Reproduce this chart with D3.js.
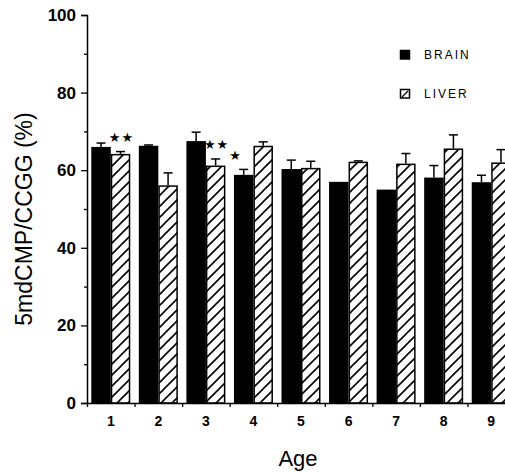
<!DOCTYPE html>
<meta charset="utf-8">
<script src="https://cdn.jsdelivr.net/npm/d3@7"></script>
<style>
  body { margin: 0; background: #fff; }
  text { font-family: "Liberation Sans", Arial, sans-serif; }
</style>
<body>
<div id="my_dataviz"></div>
<script>
// data
var ages = ["1", "2", "3", "4", "5", "6", "7", "8", "9"];
var brain = [66.0, 66.3, 67.5, 58.8, 60.3, 57.0, 55.0, 58.1, 56.9];
var brainErr = [1.0, 0.2, 2.3, 1.4, 2.3, 0, 0, 3.1, 1.8];
var liver = [64.2, 56.1, 61.2, 66.3, 60.6, 62.2, 61.7, 65.6, 62.0];
var liverErr = [0.6, 3.2, 1.7, 1.0, 1.7, 0.2, 2.6, 3.5, 3.3];
var brainSig = ["", "", "", "*", "", "", "", "", ""];
var liverSig = ["**", "", "**", "", "", "", "", "", ""];
var series = ["BRAIN", "LIVER"];
var yTicks = [0, 20, 40, 60, 80, 100];
var yMinor = [10, 30, 50, 70, 90];

var margin = { top: 15, left: 87 },
  width = 428,
  height = 388;

var svg = d3.select("#my_dataviz")
  .append("svg")
  .attr("width", 505)
  .attr("height", 472);

// hatch for liver bars
var defs = svg.append("defs");
defs.append("pattern")
  .attr("id", "hatch")
  .attr("patternUnits", "userSpaceOnUse")
  .attr("width", 11)
  .attr("height", 11)
  .append("path")
  .attr("d", "M0,11 L11,0 M-2,2 L2,-2 M9,13 L13,9")
  .attr("stroke", "#000")
  .attr("stroke-width", 1.6);

var g = svg.append("g")
  .attr("transform", "translate(" + margin.left + "," + margin.top + ")");

var y = d3.scaleLinear().domain([0, 100]).range([height, 0]);

var x0 = d3.scaleBand()
  .domain(ages)
  .range([0, width])
  .paddingInner(0.18)
  .paddingOuter(0.09);

var x1 = d3.scaleBand()
  .domain(series)
  .range([0, x0.bandwidth()]);

// boundaries between age groups
var xb = d3.scaleLinear().domain([0, ages.length]).range([0, width]);

var rows = ages.map(function (a, i) {
  return [
    { age: a, key: "BRAIN", v: brain[i], e: brainErr[i], sig: brainSig[i] },
    { age: a, key: "LIVER", v: liver[i], e: liverErr[i], sig: liverSig[i] }
  ];
});
var flat = [].concat.apply([], rows);

function cx(d) { return x0(d.age) + x1(d.key) + x1.bandwidth() / 2; }

// error bars (behind the bars)
var eb = g.append("g").selectAll("g")
  .data(flat.filter(function (d) { return d.e > 0; }))
  .enter().append("g")
  .attr("stroke", "#000")
  .attr("stroke-width", 1.5);
eb.append("line")
  .attr("x1", cx)
  .attr("x2", cx)
  .attr("y1", function (d) { return y(d.v); })
  .attr("y2", function (d) { return y(d.v + d.e); });
eb.append("line")
  .attr("x1", function (d) { return cx(d) - 4.5; })
  .attr("x2", function (d) { return cx(d) + 4.5; })
  .attr("y1", function (d) { return y(d.v + d.e); })
  .attr("y2", function (d) { return y(d.v + d.e); });

// bars
g.append("g").selectAll("rect")
  .data(flat)
  .enter().append("rect")
  .attr("x", function (d) { return x0(d.age) + x1(d.key) + (d.key == "LIVER" ? 0.75 : 0); })
  .attr("y", function (d) { return y(d.v) + (d.key == "LIVER" ? 0.75 : 0); })
  .attr("width", function (d) { return x1.bandwidth() - (d.key == "LIVER" ? 1.5 : 0); })
  .attr("height", function (d) { return height - y(d.v) - (d.key == "LIVER" ? 0.75 : 0); })
  .attr("fill", function (d) { return d.key == "BRAIN" ? "#000" : "url(#hatch)"; })
  .attr("stroke", function (d) { return d.key == "BRAIN" ? "none" : "#000"; })
  .attr("stroke-width", 1.5);

// significance stars
g.append("g").selectAll("text")
  .data(flat.filter(function (d) { return d.sig != ""; }))
  .enter().append("text")
  .attr("x", function (d) { return cx(d) + (d.key == "BRAIN" ? -8 : 1); })
  .attr("y", function (d) { return y(d.v + d.e) - 14; })
  .attr("text-anchor", "middle")
  .attr("dominant-baseline", "central")
  .style("font-family", "DejaVu Sans, sans-serif")
  .style("font-size", "13px")
  .style("letter-spacing", "1px")
  .text(function (d) { return d.sig.replace(/\*/g, "\u2605"); });

// y axis
var yAxis = g.append("g")
  .call(d3.axisLeft(y).tickValues(yTicks).tickSize(6).tickPadding(5));
g.append("g")
  .call(d3.axisLeft(y).tickValues(yMinor).tickSize(3).tickFormat(""))
  .select(".domain").remove();
yAxis.selectAll("text")
  .style("font-size", "17px")
  .style("font-weight", "bold")
  .style("font-family", "Liberation Sans, Arial, sans-serif");

// x axis: boundary ticks + centred labels
g.append("g")
  .attr("transform", "translate(0," + height + ")")
  .call(d3.axisBottom(xb).ticks(ages.length).tickSize(4).tickFormat("").tickSizeOuter(0));
var xLab = g.append("g")
  .attr("transform", "translate(0," + height + ")")
  .call(d3.axisBottom(x0).tickSize(0).tickPadding(13));
xLab.select(".domain").remove();
xLab.selectAll("text")
  .style("font-size", "14px")
  .style("font-weight", "bold")
  .style("font-family", "Liberation Sans, Arial, sans-serif");

g.selectAll(".domain").attr("stroke-width", 1.5);
g.selectAll(".tick line").attr("stroke-width", 1.3);

// axis titles
svg.append("text")
  .attr("transform", "translate(32,219) rotate(-90)")
  .attr("text-anchor", "middle")
  .style("font-size", "23px")
  .text("5mdCMP/CCGG (%)");
svg.append("text")
  .attr("x", 298)
  .attr("y", 466)
  .attr("text-anchor", "middle")
  .style("font-size", "22px")
  .text("Age");

// legend
var leg = svg.append("g").selectAll("g")
  .data(series)
  .enter().append("g")
  .attr("transform", function (d, i) { return "translate(400," + (50 + i * 39) + ")"; });
leg.append("rect")
  .attr("x", 0.5).attr("y", 0.5)
  .attr("width", 9).attr("height", 8.5)
  .attr("fill", function (d) { return d == "BRAIN" ? "#000" : "#fff"; })
  .attr("stroke", "#000")
  .attr("stroke-width", 1.5);
leg.filter(function (d) { return d == "LIVER"; })
  .append("line")
  .attr("x1", 2).attr("y1", 8).attr("x2", 8).attr("y2", 2)
  .attr("stroke", "#000").attr("stroke-width", 1.3);
leg.append("text")
  .attr("x", 24)
  .attr("y", 9)
  .style("font-size", "12px")
  .style("letter-spacing", "2px")
  .text(function (d) { return d; });
</script>
</body>
